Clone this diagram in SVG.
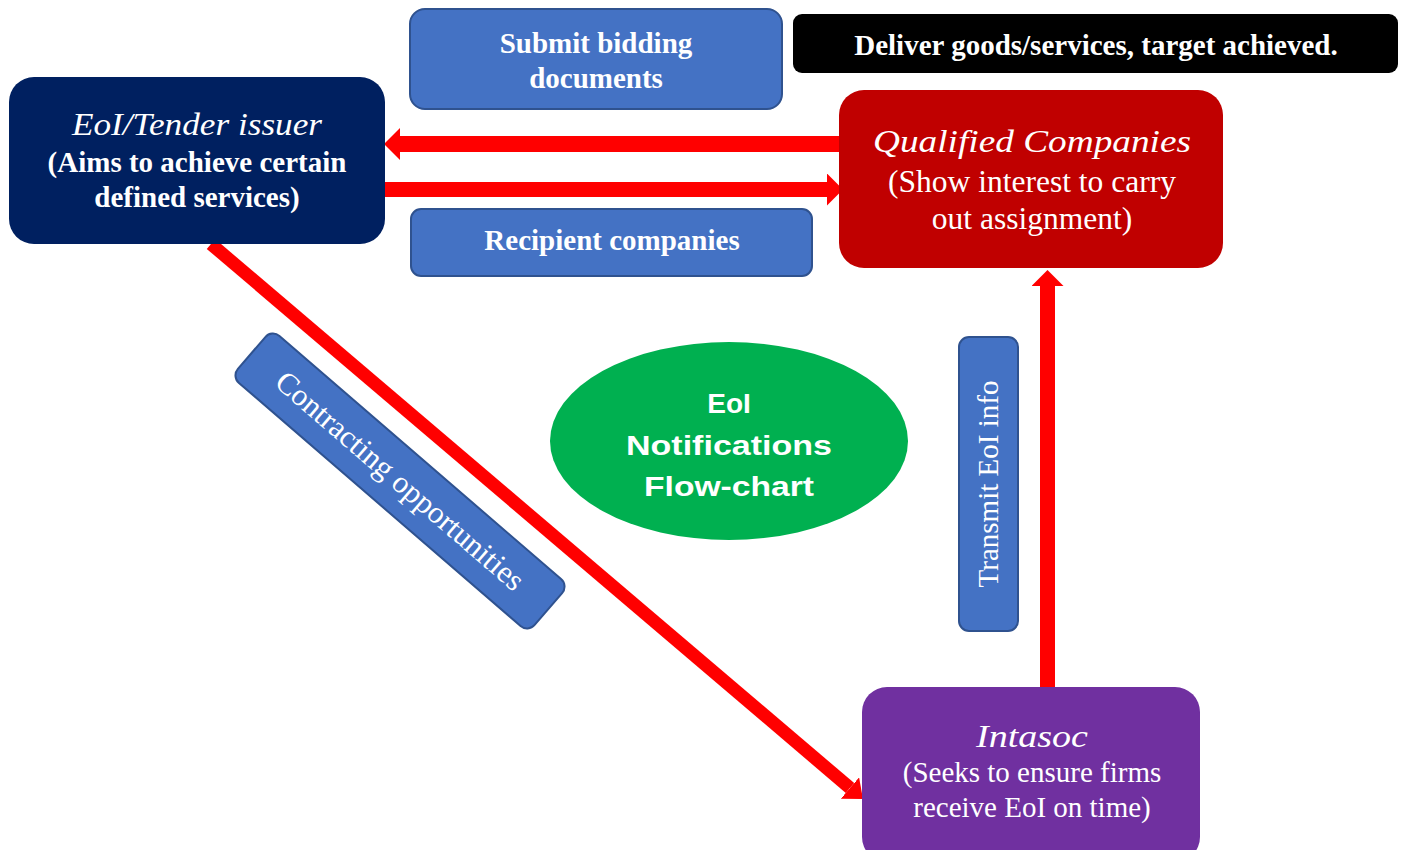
<svg xmlns="http://www.w3.org/2000/svg" width="1409" height="850" viewBox="0 0 1409 850">
<style>
.t{font-family:"Liberation Serif","Times New Roman",serif;fill:#fff;text-anchor:middle}
.b{font-weight:bold;font-size:29px}
.r{font-size:29px}
.q{font-size:31.5px}
.i{font-style:italic;font-size:32px}
.lbl{fill:#4472C4;stroke:#2F528F;stroke-width:2}
.g{font-family:"Liberation Sans",Arial,sans-serif;font-weight:bold;font-size:28px;fill:#fff;text-anchor:middle}
.arr{stroke:#FF0000;fill:none}
</style>
<defs>
<marker id="ah" viewBox="0 -16 16 32" markerWidth="16" markerHeight="32" refX="0" refY="0" orient="auto" markerUnits="userSpaceOnUse">
<path d="M0,-16 L16,0 L0,16 z" fill="#FF0000"/>
</marker>
<marker id="ahs" viewBox="0 -14 17 28" markerWidth="17" markerHeight="28" refX="0" refY="0" orient="auto" markerUnits="userSpaceOnUse">
<path d="M0,-14 L17,0 L0,14 z" fill="#FF0000"/>
</marker>
</defs>
<rect width="1409" height="850" fill="#fff"/>
<g id="connectors">
<line class="arr" x1="840" y1="144" x2="400" y2="144" stroke-width="16" marker-end="url(#ah)"/>
<line class="arr" x1="385" y1="189.5" x2="827" y2="189.5" stroke-width="15" marker-end="url(#ah)"/>
<line class="arr" x1="211" y1="244" x2="850" y2="788" stroke-width="13" marker-end="url(#ahs)"/>
<line class="arr" x1="1047.5" y1="688" x2="1047.5" y2="286" stroke-width="15" marker-end="url(#ah)"/>
</g>
<g id="issuer">
<rect x="9" y="77" width="376" height="167" rx="25" fill="#002060"/>
<text class="t i" x="197" y="135" textLength="250" lengthAdjust="spacingAndGlyphs">EoI/Tender issuer</text>
<text class="t b" x="197" y="172">(Aims to achieve certain</text>
<text class="t b" x="197" y="207">defined services)</text>
</g>
<g id="qualified">
<rect x="839" y="90" width="384" height="178" rx="25" fill="#C00000"/>
<text class="t i" x="1032" y="152" textLength="318" lengthAdjust="spacingAndGlyphs">Qualified Companies</text>
<text class="t q" x="1032" y="192">(Show interest to carry</text>
<text class="t q" x="1032" y="229">out assignment)</text>
</g>
<g id="intasoc">
<rect x="862" y="687" width="338" height="175" rx="25" fill="#7030A0"/>
<text class="t i" x="1032" y="747" textLength="112" lengthAdjust="spacingAndGlyphs">Intasoc</text>
<text class="t r" x="1032" y="782">(Seeks to ensure firms</text>
<text class="t r" x="1032" y="817">receive EoI on time)</text>
</g>
<g id="submit">
<rect class="lbl" x="410" y="9" width="372" height="100" rx="15"/>
<text class="t b" x="596" y="53">Submit bidding</text>
<text class="t b" x="596" y="88">documents</text>
</g>
<g id="deliver">
<rect x="793" y="14" width="605" height="59" rx="9" fill="#000"/>
<text class="t b" x="1096" y="55">Deliver goods/services, target achieved.</text>
</g>
<g id="recipient">
<rect class="lbl" x="411" y="209" width="401" height="67" rx="10"/>
<text class="t b" x="612" y="250">Recipient companies</text>
</g>
<g id="contracting">
<g transform="translate(400,481) rotate(40.8)">
<rect class="lbl" x="-196" y="-31" width="392" height="62" rx="10"/>
<text class="t" x="0" y="10" font-size="31">Contracting opportunities</text>
</g>
</g>
<g id="transmit">
<rect class="lbl" x="959" y="337" width="59" height="294" rx="10"/>
<text class="t r" transform="translate(998,484) rotate(-90)" x="0" y="0">Transmit EoI info</text>
</g>
<g id="title">
<ellipse cx="729" cy="441" rx="179" ry="99" fill="#00B050"/>
<text class="g" x="729" y="413" font-size="30">EoI</text>
<text class="g" x="729" y="455" textLength="206" lengthAdjust="spacingAndGlyphs">Notifications</text>
<text class="g" x="729" y="496" textLength="170" lengthAdjust="spacingAndGlyphs">Flow-chart</text>
</g>
</svg>
